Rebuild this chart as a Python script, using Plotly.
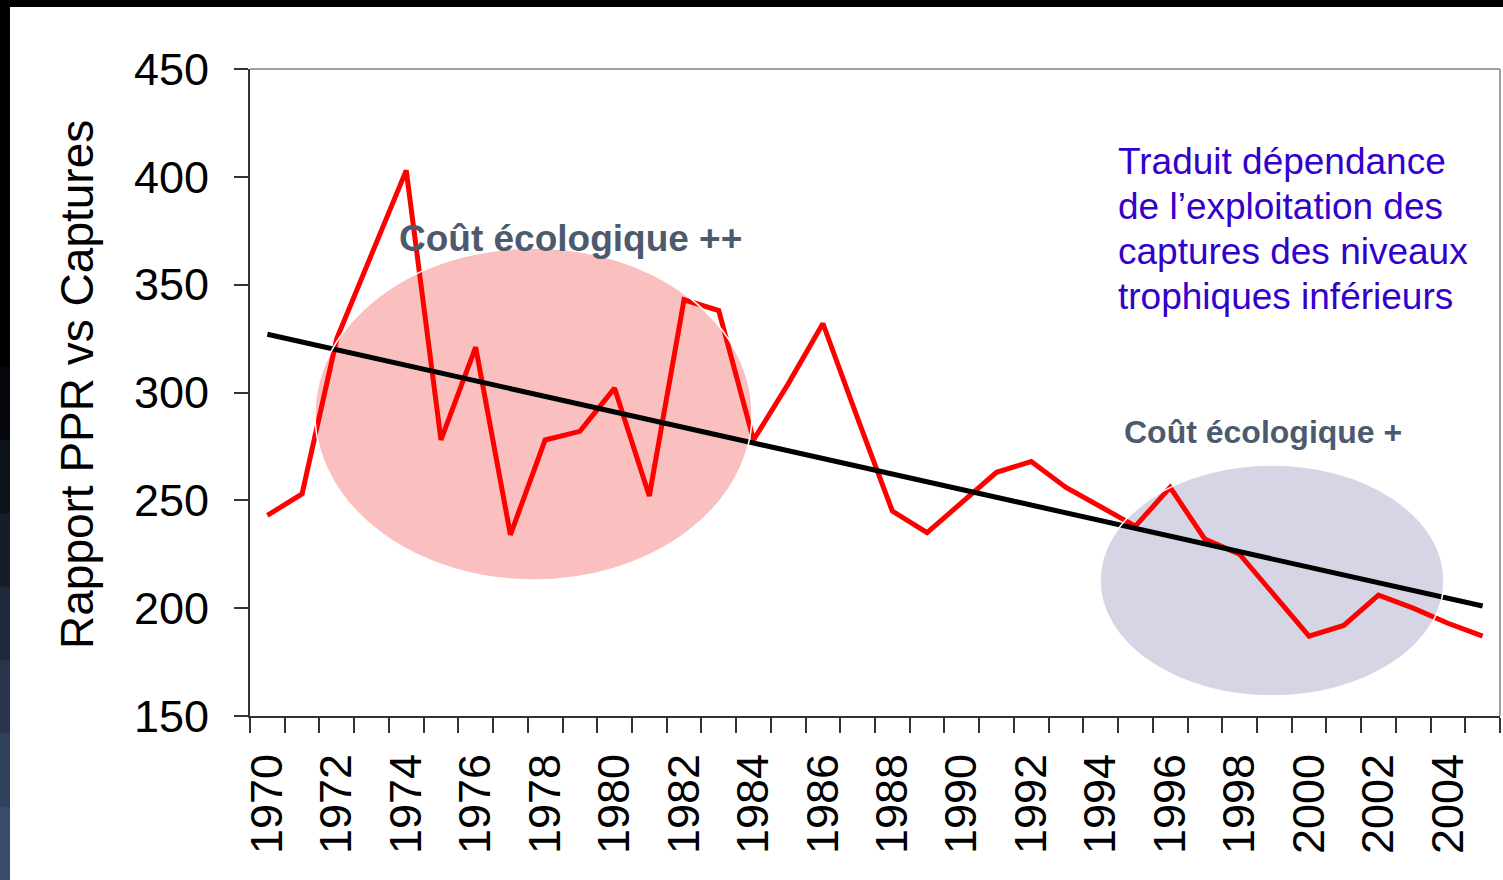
import plotly.graph_objects as go

# Rapport PPR / captures, 1970-2005
years = list(range(1970, 2006))
ratio = [243, 253, 325, 364, 403, 278, 321, 234, 278, 282,
         302, 252, 343, 338, 278, 304, 332, 288, 245, 235,
         249, 263, 268, 256, 247, 238, 256, 232, 225, 206,
         187, 192, 206, 200, 193, 187]

# linear trend end points
trend_years = [1970, 2005]
trend_vals = [327, 201]

label_years = list(range(1970, 2006, 2))

note_lines = ["Traduit dépendance", "de l’exploitation des",
              "captures des niveaux", "trophiques inférieurs"]

W, H = 1503, 880
L, R, T, B = 250, 3, 69, 164
PW, PH = W - L - R, H - T - B


def px(x):
    # pixel column -> paper x
    return (x - L) / PW


def py(y):
    # pixel row -> paper y
    return (H - B - y) / PH


FONT = "Arial, Liberation Sans, sans-serif"

fig = go.Figure()

fig.add_trace(go.Scatter(x=years, y=ratio, mode="lines",
                         line=dict(color="#ff0000", width=5), showlegend=False))
fig.add_trace(go.Scatter(x=trend_years, y=trend_vals, mode="lines",
                         line=dict(color="#000000", width=5), showlegend=False))

shapes = []

# highlighted periods (ellipses)
ellipses = [
    (315, 752, 580, 248, "rgba(245,140,140,0.55)"),
    (1100, 1444, 696, 465, "rgba(150,150,190,0.40)"),
]
for x0, x1, y0, y1, col in ellipses:
    shapes.append(dict(type="circle", xref="paper", yref="paper",
                       x0=px(x0), x1=px(x1), y0=py(y0), y1=py(y1),
                       fillcolor=col, line=dict(width=0), layer="below"))
    shapes.append(dict(type="circle", xref="paper", yref="paper",
                       x0=px(x0), x1=px(x1), y0=py(y0), y1=py(y1),
                       line=dict(color="white", width=1.5), layer="above"))

# light frame on top and right
shapes.append(dict(type="line", xref="paper", yref="paper", x0=0, x1=1, y0=1, y1=1,
                   line=dict(color="#a0a0a0", width=2)))
shapes.append(dict(type="line", xref="paper", yref="paper", x0=1, x1=1, y0=0, y1=1,
                   line=dict(color="#a0a0a0", width=2)))

# slide decoration: black top band and dark left strip
shapes.append(dict(type="rect", xref="paper", yref="paper",
                   x0=px(0), x1=px(W), y0=py(7), y1=py(0),
                   fillcolor="black", line=dict(width=0)))
strip_cols = ["#000000", "#000000", "#000000", "#000000", "#000000",
              "#05070b", "#0d1119", "#161d2a", "#1f293b", "#28354c",
              "#31405d", "#3a4b6b"]
seg = H / len(strip_cols)
for i, c in enumerate(strip_cols):
    shapes.append(dict(type="rect", xref="paper", yref="paper",
                       x0=px(0), x1=px(10), y0=py((i + 1) * seg + 1), y1=py(i * seg),
                       fillcolor=c, line=dict(width=0)))

annotations = [
    dict(text="Rapport PPR vs Captures", textangle=-90, showarrow=False,
         xref="paper", yref="paper", x=px(77), y=py(385),
         xanchor="center", yanchor="middle",
         font=dict(family=FONT, size=46, color="black")),
    dict(text="<b>Coût écologique ++</b>", showarrow=False,
         xref="paper", yref="paper", x=px(570), y=py(238),
         xanchor="center", yanchor="middle",
         font=dict(family=FONT, size=37, color="#4d5a6e")),
    dict(text="<b>Coût écologique +</b>", showarrow=False,
         xref="paper", yref="paper", x=px(1263), y=py(432),
         xanchor="center", yanchor="middle",
         font=dict(family=FONT, size=32, color="#4d5a6e")),
]
for i, line in enumerate(note_lines):
    annotations.append(dict(text=line, showarrow=False, align="left",
                            xref="paper", yref="paper",
                            x=px(1116), y=py(162 + 44.7 * i),
                            xanchor="left", yanchor="middle",
                            font=dict(family=FONT, size=37, color="#3300cc")))

fig.update_layout(
    width=W, height=H,
    margin=dict(l=L, r=R, t=T, b=B),
    paper_bgcolor="white", plot_bgcolor="white",
    shapes=shapes, annotations=annotations,
    showlegend=False,
    xaxis=dict(
        range=[1969.5, 2005.5], tickmode="array", tickvals=label_years,
        ticktext=[str(y) for y in label_years],
        ticks="", tickangle=-90, ticklabelstandoff=18,
        tickfont=dict(family=FONT, size=45, color="black"),
        showline=True, linecolor="#333333", linewidth=2,
        showgrid=False, zeroline=False,
        minor=dict(tickmode="linear", tick0=1969.5, dtick=1, ticks="outside",
                   ticklen=15, tickwidth=2, tickcolor="#333333", showgrid=False),
    ),
    yaxis=dict(
        range=[150, 450], tickmode="linear", tick0=150, dtick=50,
        ticks="outside", ticklen=14, tickwidth=2, tickcolor="#333333",
        ticklabelstandoff=16,
        tickfont=dict(family=FONT, size=45, color="black"),
        showline=True, linecolor="#333333", linewidth=2,
        showgrid=False, zeroline=False,
    ),
)

fig.write_html("out.html", config={"displayModeBar": False},
               post_script="document.body.style.margin='0';document.body.style.overflow='hidden';")
